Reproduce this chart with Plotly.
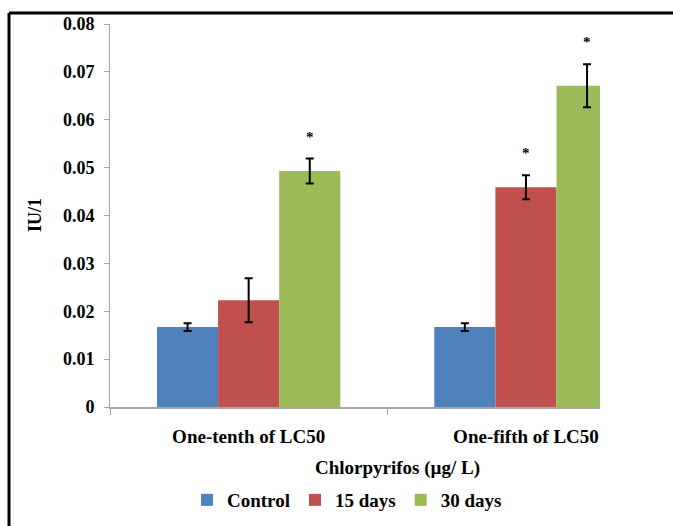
import plotly.graph_objects as go

categories = ["One-tenth of LC50", "One-fifth of LC50"]
series_names = ["Control", "15 days", "30 days"]
control = [0.0167, 0.0167]
control_err = [0.0008, 0.0008]
days15 = [0.0223, 0.0459]
days15_err = [0.0046, 0.0025]
days30 = [0.0493, 0.0671]
days30_err = [0.0026, 0.0045]
stars15 = [False, True]
stars30 = [True, True]
y_ticks = [0, 0.01, 0.02, 0.03, 0.04, 0.05, 0.06, 0.07, 0.08]
y_ticktext = ["0", "0.01", "0.02", "0.03", "0.04", "0.05", "0.06", "0.07", "0.08"]

colors = ["#4F81BD", "#C0504D", "#9BBB59"]
FONT = "Liberation Serif"

W, H = 673, 526
L, R, T, B = 110, 73, 24, 119
pw, ph = W - L - R, H - T - B

def bold(size):
    return dict(family=FONT, size=size, color="black", weight="bold")

fig = go.Figure()
vals = [control, days15, days30]
errs = [control_err, days15_err, days30_err]
for name, v, e, c in zip(series_names, vals, errs, colors):
    fig.add_trace(go.Bar(
        x=categories, y=v, name=name, marker=dict(color=c, line=dict(width=0)),
        error_y=dict(type="data", array=e, visible=True, color="black", thickness=2, width=4),
    ))

bargap = 0.339
bw = (1 - bargap) / 3
annotations = []
for si, (v, e, st) in enumerate([(days15, days15_err, stars15), (days30, days30_err, stars30)], start=1):
    for ci, flag in enumerate(st):
        if flag:
            annotations.append(dict(
                x=ci + (si - 1) * bw, y=v[ci] + e[ci], xref="x", yref="y",
                text="*", showarrow=False, yanchor="bottom", yshift=12,
                font=dict(family=FONT, size=15, color="black"),
            ))

annotations.append(dict(
    x=(397 - L) / pw, y=(407 - 468) / ph, xref="paper", yref="paper",
    text="Chlorpyrifos (µg/ L)", showarrow=False,
    font=bold(19), xanchor="center", yanchor="middle",
))
annotations.append(dict(
    x=(35 - L) / pw, y=(407 - 215) / ph, xref="paper", yref="paper",
    text="IU/1", showarrow=False, textangle=-90,
    font=bold(18), xanchor="center", yanchor="middle",
))

fx = (9 - L) / pw
fy = 1 + (T - 13) / ph
shapes = [
    dict(type="line", xref="paper", yref="paper", x0=fx, x1=(W + 10 - L) / pw, y0=fy, y1=fy,
         line=dict(color="black", width=3)),
    dict(type="line", xref="paper", yref="paper", x0=fx, x1=fx, y0=fy, y1=-(B + 10) / ph,
         line=dict(color="black", width=3)),
]

fig.update_layout(
    width=W, height=H,
    margin=dict(l=L, r=R, t=T, b=B, pad=0, autoexpand=False),
    paper_bgcolor="white", plot_bgcolor="white",
    barmode="group", bargap=bargap, bargroupgap=0,
    font=bold(18),
    showlegend=True,
    legend=dict(orientation="h", x=(347 - L) / pw, xanchor="center", y=(407 - 500) / ph, yanchor="middle",
                font=bold(19), itemwidth=30, tracegroupgap=0),
    annotations=annotations,
    shapes=shapes,
    xaxis=dict(
        type="category", range=[-0.5, -0.5 + (600 - L) / (387.3 - L)],
        showline=True, linecolor="#A6A6A6", linewidth=2,
        tickson="boundaries", ticks="outside", ticklen=6, tickcolor="#A6A6A6", tickwidth=1,
        tickfont=bold(19), automargin=False,
        showgrid=False, zeroline=False, ticklabelstandoff=11,
    ),
    yaxis=dict(
        range=[0, 0.08], tickvals=y_ticks, ticktext=y_ticktext,
        showline=True, linecolor="#A6A6A6", linewidth=1,
        ticks="outside", ticklen=5, tickcolor="#A6A6A6", tickwidth=1,
        tickfont=bold(18), automargin=False,
        showgrid=False, zeroline=False, ticklabelstandoff=6,
    ),
)

fig.write_html("out.html")
